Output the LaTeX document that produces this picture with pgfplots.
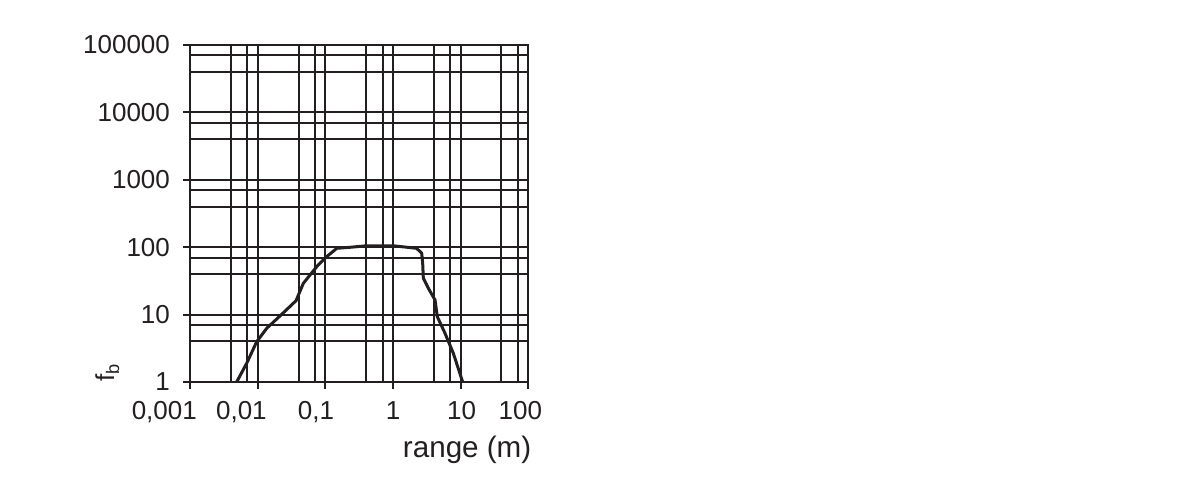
\documentclass[border=0pt]{standalone}
\usepackage{fontspec}
\setmainfont{Liberation Sans}
\usepackage{pgfplots}
\pgfplotsset{compat=1.18}
\newcommand\ff{\fontsize{13pt}{15pt}\selectfont}
% shift a centred tick label sideways by #1
\newcommand\sh[2]{\makebox[0pt]{\hspace*{#1}#2}}
\definecolor{ink}{HTML}{231F20}

\begin{document}
\begin{tikzpicture}
\begin{axis}[
    at={(0,0)}, anchor=south west,
    scale only axis,
    width=169pt, height=168.5pt,
    xmode=log, ymode=log,
    xmin=0.001, xmax=100,
    ymin=1, ymax=100000,
    xtick={0.001,0.01,0.1,1,10,100},
    xticklabels={\sh{-26pt}{0,001},\sh{-16.5pt}{0,01},\sh{-9.5pt}{0,1},1,\sh{1pt}{10},\sh{-8pt}{100}},
    ytick={1,10,100,1000,10000,100000},
    yticklabels={1,10,100,1000,10000,100000},
    minor xtick={0.004,0.007,0.04,0.07,0.4,0.7,4,7,40,70},
    minor ytick={4,7,40,70,400,700,4000,7000,40000,70000},
    grid=both,
    major grid style={ink, line width=1pt},
    minor grid style={ink, line width=1pt},
    axis line style={ink, line width=1pt},
    tick align=outside,
    xtick pos=bottom, ytick pos=left,
    major tick length=3.5pt, minor tick length=0pt,
    every tick/.style={ink, line width=1pt},
    tick label style={font=\ff, text=ink, inner sep=0pt},
    xticklabel style={anchor=north, yshift=-6pt},
    yticklabel style={anchor=east, xshift=-6.5pt},
    xlabel={range (m)},
    ylabel={f\textsubscript{b}},
    label style={font=\ff, text=ink, inner sep=0pt},
    xlabel style={font=\fontsize{14.8pt}{17pt}\selectfont, at={(axis description cs:1.010,-0.160)}, anchor=north east},
    ylabel style={at={(axis description cs:-0.282,0)}, anchor=north west},
]
\addplot[ink, line width=1.5pt, line join=round] coordinates {
    (0.00485,1) (0.00682,1.89) (0.0096,3.96) (0.0135,6.26) (0.0212,9.53)
    (0.0367,16.1) (0.047,29.1) (0.0741,51.4) (0.104,72.3) (0.147,96.3)
    (0.23,99.6) (0.406,105) (1.0,105) (2.23,96.3) (2.65,81.2)
    (2.74,57.7) (2.8,34.6) (3.32,24.6) (4.17,16.5) (4.51,9.31)
    (5.86,5.28) (7.78,2.67) (10.7,1)
};
\end{axis}
\path (-95.15pt,-57pt) rectangle (504.35pt,191pt);
\end{tikzpicture}
\end{document}
